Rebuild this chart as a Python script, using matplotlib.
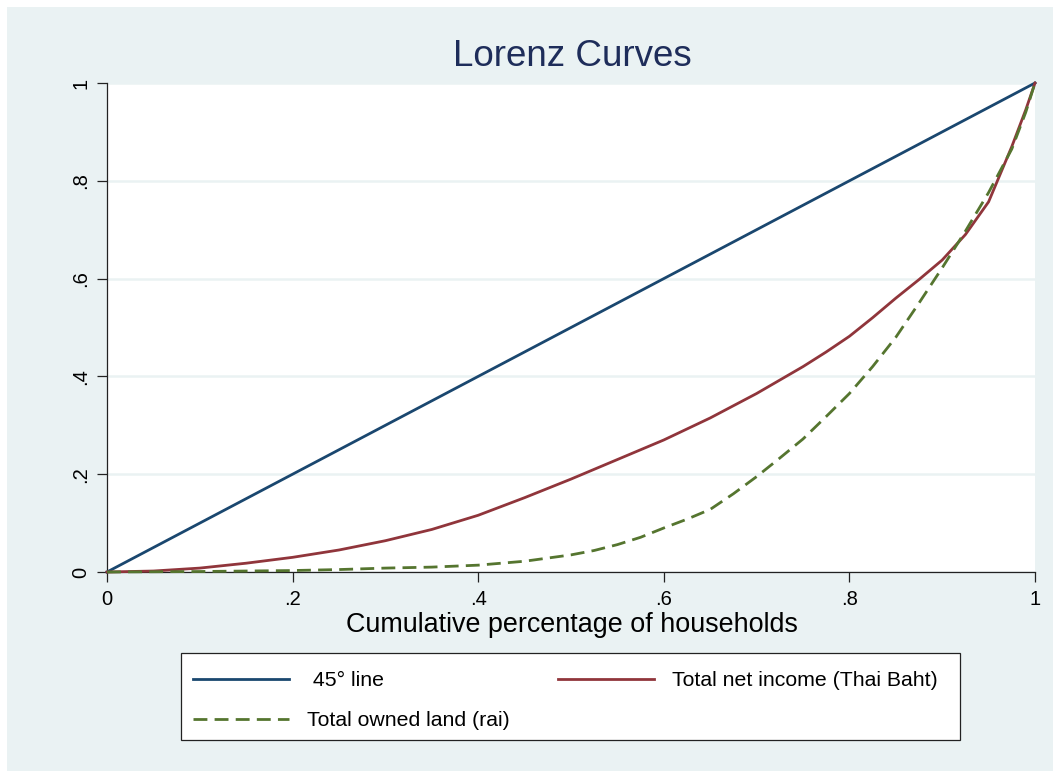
import matplotlib
matplotlib.use("Agg")
import matplotlib.pyplot as plt
from matplotlib.patches import Rectangle

plt.rcParams['font.family'] = ['Liberation Sans', 'DejaVu Sans']

# ---- data ----
line45_x = [0.0, 1.0]
line45_y = [0.0, 1.0]

income_x = [0.0, 0.05, 0.1, 0.15, 0.2, 0.25, 0.3, 0.35, 0.4, 0.45, 0.5, 0.55,
            0.6, 0.65, 0.7, 0.75, 0.775, 0.8, 0.825, 0.85, 0.875, 0.9, 0.925,
            0.95, 0.975, 0.99, 1.0]
income_y = [0.0, 0.002, 0.008, 0.018, 0.030, 0.045, 0.064, 0.087, 0.116, 0.152,
            0.190, 0.230, 0.270, 0.315, 0.365, 0.420, 0.450, 0.482, 0.520, 0.560,
            0.598, 0.638, 0.690, 0.757, 0.870, 0.945, 1.0]

land_x = [0.0, 0.05, 0.1, 0.15, 0.2, 0.25, 0.3, 0.35, 0.4, 0.45, 0.5, 0.525,
          0.55, 0.575, 0.6, 0.625, 0.65, 0.675, 0.7, 0.725, 0.75, 0.775, 0.8,
          0.825, 0.85, 0.875, 0.9, 0.925, 0.95, 0.975, 0.99, 1.0]
land_y = [0.0, 0.0005, 0.001, 0.002, 0.003, 0.005, 0.008, 0.010, 0.014, 0.022,
          0.035, 0.044, 0.056, 0.071, 0.090, 0.108, 0.128, 0.160, 0.195, 0.233,
          0.272, 0.318, 0.365, 0.420, 0.480, 0.550, 0.622, 0.697, 0.776, 0.865,
          0.940, 1.0]

tick_vals = [0, 0.2, 0.4, 0.6, 0.8, 1.0]
tick_labels = ["0", ".2", ".4", ".6", ".8", "1"]

labels = [" 45\u00b0 line", "Total net income (Thai Baht)", "Total owned land (rai)"]
title = "Lorenz Curves"
xlabel = "Cumulative percentage of households"

# ---- styling ----
W, H = 1053, 771
BG = "#EAF2F3"
NAVY = "#1A476F"
MAROON = "#90353B"
GREEN = "#55752F"

fig = plt.figure(figsize=(W / 100, H / 100), dpi=100)
fig.patch.set_facecolor("white")
fig.patches.append(Rectangle((7 / W, 0), 1 - 7 / W, 1 - 7 / H, transform=fig.transFigure,
                             facecolor=BG, edgecolor="none", zorder=-10))

ax = fig.add_axes([107 / W, 1 - 572 / H, (1035 - 107) / W, (572 - 83) / H])
ax.set_facecolor("white")

l1, = ax.plot(line45_x, line45_y, color=NAVY, lw=2.0, clip_on=False, zorder=3)
l2, = ax.plot(income_x, income_y, color=MAROON, lw=2.0, clip_on=False, zorder=3,
              solid_joinstyle="round")
l3, = ax.plot(land_x, land_y, color=GREEN, lw=2.0, dashes=(5, 2.6), clip_on=False, zorder=4)

ax.set_xlim(0, 1)
ax.set_ylim(0, 1)
ax.set_xticks(tick_vals)
ax.set_xticklabels(tick_labels)
ax.set_yticks(tick_vals)
ax.set_yticklabels(tick_labels)

for s in ["top", "right"]:
    ax.spines[s].set_visible(False)
for s in ["left", "bottom"]:
    ax.spines[s].set_color("#222222")
    ax.spines[s].set_linewidth(0.9)

ax.tick_params(axis="both", direction="out", length=7.5, width=0.9, color="#222222",
               labelsize=14.5, pad=5.5)
ax.tick_params(axis="y", labelrotation=90, pad=4.5)
for t in ax.get_yticklabels():
    t.set_va("center")

ax.yaxis.grid(True, color=BG, lw=1.8)
ax.xaxis.grid(False)
ax.set_axisbelow(True)

fig.text(572 / W, 1 - 57 / H, title, ha="center", va="center", fontsize=26.5, color="#1E2D5A")
fig.text(572 / W, 1 - 632 / H, xlabel, ha="center", va="baseline", fontsize=19.4, color="black")

# legend box
fig.patches.append(Rectangle((181 / W, 1 - 740 / H), (960 - 181) / W, (740 - 653) / H,
                             transform=fig.transFigure, facecolor="white", edgecolor="#222222",
                             lw=0.9, zorder=1))
leg = fig.legend([l1, l3, l2], [labels[0], labels[2], labels[1]], ncol=2, frameon=False,
                 loc="upper left", bbox_to_anchor=(193 / W, 1 - 671 / H),
                 borderpad=0, borderaxespad=0, fontsize=15.3, handlelength=4.5,
                 handletextpad=0.85, columnspacing=2.3, labelspacing=1.0)
leg.set_zorder(5)

fig.savefig("out.png", dpi=100, facecolor=fig.get_facecolor())
